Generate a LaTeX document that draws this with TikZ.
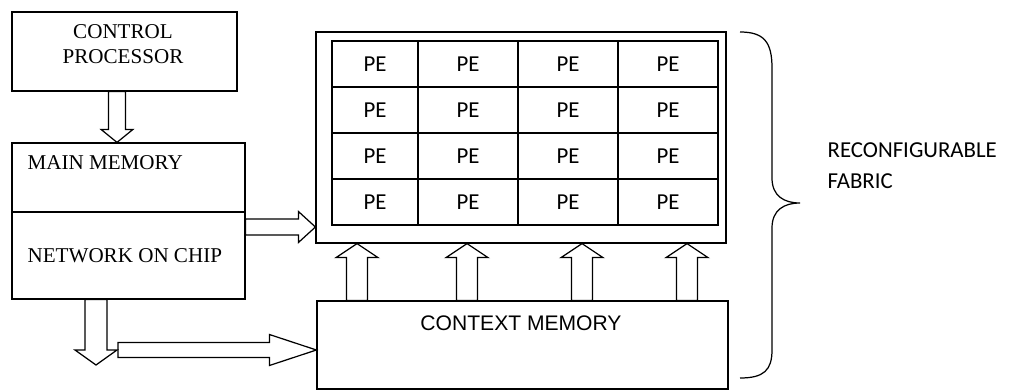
\documentclass[tikz,border=0pt]{standalone}
\usepackage{fontspec}
\setmainfont{Liberation Serif}
\newfontfamily\arialfont{Liberation Sans}
\newfontfamily\calibrifont{Carlito}
\usepackage{tikz}
\usetikzlibrary{calc,positioning}

% hollow block arrow: [opts]{from}{to}{shaft half}{head half}{head length}
\newcommand{\hollowarrow}[6][]{%
    \coordinate (hb) at ($(#3)!#6!(#2)$);
    \draw[#1] ($(#2)!#4!90:(#3)$) -- ($(hb)!#4!90:(#3)$) -- ($(hb)!#5!90:(#3)$) -- (#3)
        -- ($(hb)!#5!-90:(#3)$) -- ($(hb)!#4!-90:(#3)$) -- ($(#2)!#4!-90:(#3)$) -- cycle;
}

\begin{document}
\begin{tikzpicture}[
        x=0.02cm, y=-0.02cm,
        line width=0.7pt,
        box/.style={draw, rectangle, inner sep=0pt},
        pe/.style={draw, rectangle, inner sep=0pt, minimum height=0.92cm,
            font=\calibrifont\fontsize{13}{15}\selectfont},
        serif/.style={inner sep=0pt, font=\fontsize{12}{14.2}\selectfont},
        sans/.style={inner sep=0pt, font=\arialfont\fontsize{12}{14}\selectfont},
        label/.style={inner sep=0pt, font=\calibrifont\fontsize{13}{17.6}\selectfont}
    ]
        \useasboundingbox (0,0) rectangle (1011,392);

        % left column
        \node[box, minimum width=4.5cm, minimum height=1.58cm] (cp) at (124.5,51.5) {};
        \node[serif, align=center] (cptext) at (123,44.5) {CONTROL\\PROCESSOR};
        \node[box, minimum width=4.66cm, minimum height=1.38cm] (mm) at (128.5,177.5) {};
        \node[box, minimum width=4.66cm, minimum height=1.74cm] (noc) at (128.5,255.5) {};
        \node[serif, anchor=west] (mmtext) at (27,163) {MAIN MEMORY};
        \node[serif, anchor=west] (noctext) at (27,256) {NETWORK ON CHIP};

        % reconfigurable fabric
        \node[box, minimum width=8.2cm, minimum height=4.22cm] (fabric) at (521,137.5) {};
        \foreach \r/\ry in {1/64,2/110,3/156,4/202}
            \foreach \c/\cx/\cw in {1/375/1.72,2/468/2,3/568/2,4/668/2}
                \node[pe, minimum width=\cw cm] (pe\r\c) at (\cx,\ry) {PE};

        \node[box, minimum width=8.22cm, minimum height=1.76cm] (cm) at (522.5,345) {};
        \node[sans] (cmtext) at (521,323) {CONTEXT MEMORY};

        % block arrows
        \coordinate (cpout) at (117,0 |- cp.south);
        \coordinate (mmin) at (117,0 |- mm.north);
        \hollowarrow{cpout}{mmin}{0.17cm}{0.32cm}{0.26cm}

        \coordinate (nocout) at (noc.east |- 0,227);
        \coordinate (fabin) at (fabric.west |- 0,227);
        \hollowarrow{nocout}{fabin}{0.16cm}{0.31cm}{0.34cm}

        \foreach \ax in {357,467,582,687} {
            \coordinate (cmout) at (\ax,0 |- cm.north);
            \coordinate (fabup) at (\ax,0 |- fabric.south);
            \hollowarrow{cmout}{fabup}{0.21cm}{0.42cm}{0.28cm}
        }

        \coordinate (nocdown) at (96,0 |- noc.south);
        \coordinate (downtip) at (96,365);
        \hollowarrow{nocdown}{downtip}{0.22cm}{0.42cm}{0.3cm}

        \coordinate (busstart) at (118,350);
        \coordinate (cmin) at (cm.west |- 0,350);
        \hollowarrow{busstart}{cmin}{0.15cm}{0.31cm}{0.94cm}

        % brace
        \draw (740,32) .. controls (764,32) and (772,42) .. (772,68) -- (772,178)
            .. controls (772,196) and (784,203) .. (800,203)
            .. controls (784,203) and (772,210) .. (772,228) -- (772,350)
            .. controls (772,370) and (764,378) .. (740,378);
        \node[label, align=left, anchor=west] (fablabel) at (827,166) {RECONFIGURABLE\\FABRIC};
    \end{tikzpicture}
\end{document}
